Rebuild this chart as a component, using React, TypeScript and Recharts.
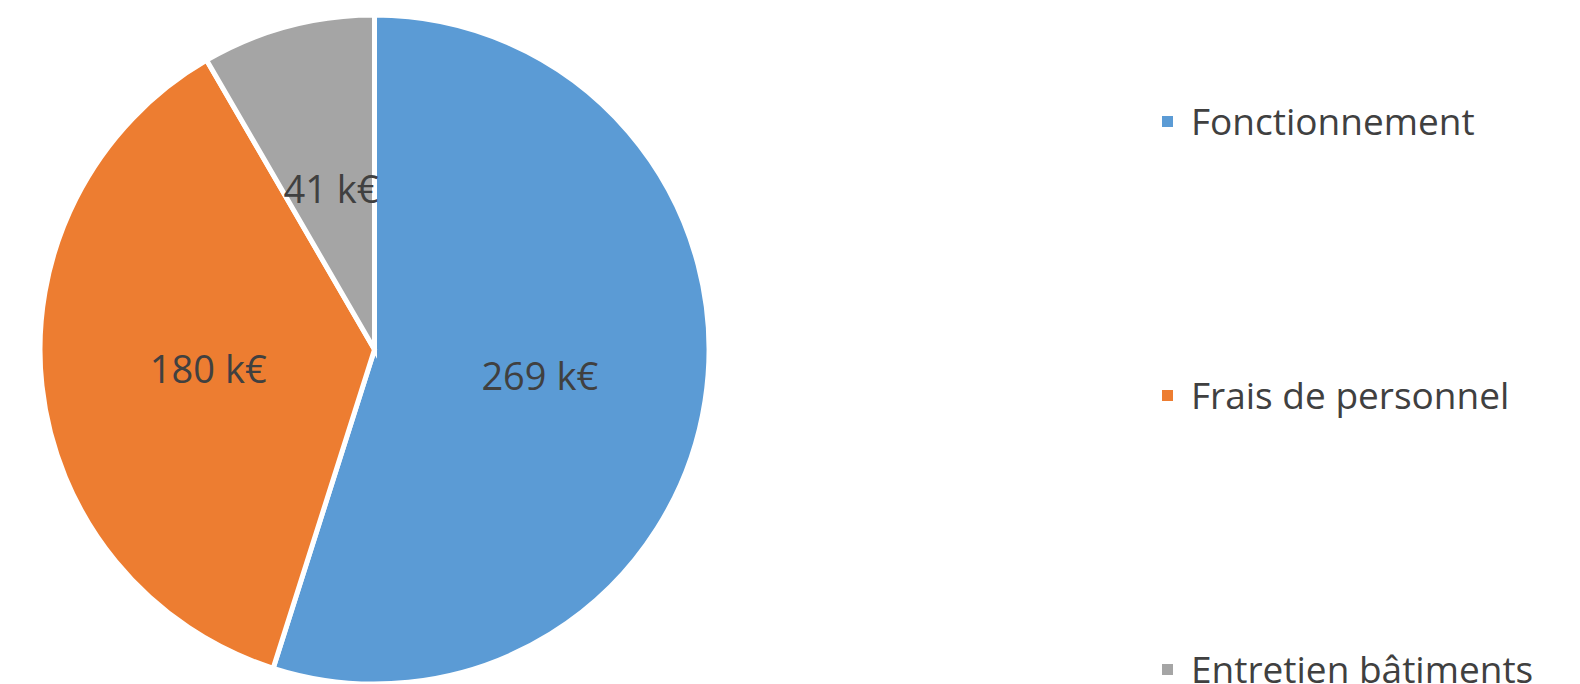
import { PieChart, Pie, Cell, Legend } from 'recharts';

const categories = ['Fonctionnement', 'Frais de personnel', 'Entretien bâtiments'];
const amounts = [269, 180, 41];
const colors = ['#5B9BD5', '#ED7D31', '#A5A5A5'];

const data = categories.map((name, i) => ({ name, value: amounts[i] }));

const RADIAN = Math.PI / 180;

const renderLabel = ({ cx, cy, midAngle, outerRadius, value }: any) => {
    const r = outerRadius * 0.5;
    const x = cx + r * Math.cos(-midAngle * RADIAN);
    const y = cy + r * Math.sin(-midAngle * RADIAN);
    return (
        <text x={x} y={y} fill="#404040" textAnchor="middle" dominantBaseline="central"
            style={{ fontFamily: 'Open Sans, sans-serif', fontSize: 38 }}>
            {value} k€
        </text>
    );
};

// keep the legend in data order
const renderLegend = ({ payload }: any) => {
    const items = [...(payload || [])].sort(
        (a: any, b: any) => categories.indexOf(a.value) - categories.indexOf(b.value)
    );
    return (
        <div style={{ position: 'relative', width: 418, height: 684 }}>
            {items.map((entry: any, i: number) => (
                <div key={entry.value}
                    style={{ position: 'absolute', left: 0, top: 95 + i * 274, display: 'flex', alignItems: 'center', whiteSpace: 'nowrap' }}>
                    <span style={{ width: 11, height: 11, background: entry.color, marginRight: 18, display: 'inline-block' }} />
                    <span style={{ fontFamily: 'Open Sans, sans-serif', fontSize: 37, color: '#404040', lineHeight: '52px' }}>{entry.value}</span>
                </div>
            ))}
        </div>
    );
};

export default function App() {
    return (
        <div style={{ position: 'absolute', left: 0, top: 0, width: 1580, height: 684, background: '#fff', overflow: 'hidden' }}>
            <PieChart width={1580} height={684}>
                <Pie
                    data={data}
                    dataKey="value"
                    nameKey="name"
                    cx={369.5}
                    cy={344.5}
                    outerRadius={334.5}
                    startAngle={90}
                    endAngle={-270}
                    stroke="#fff"
                    strokeWidth={5}
                    label={renderLabel}
                    labelLine={false}
                    isAnimationActive={false}
                >
                    {data.map((d, i) => (
                        <Cell key={d.name} fill={colors[i]} />
                    ))}
                </Pie>
                <Legend
                    content={renderLegend}
                    wrapperStyle={{ position: 'absolute', left: 1162, top: 0, width: 418, height: 684 }}
                />
            </PieChart>
        </div>
    );
}
